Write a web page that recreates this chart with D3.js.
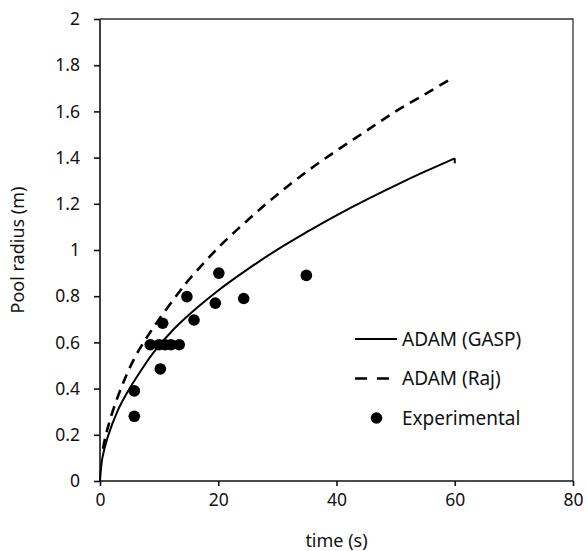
<!DOCTYPE html>
<html>
<head>
<meta charset="utf-8">
<script src="https://cdn.jsdelivr.net/npm/d3@7"></script>
<style>
  body { margin: 0; background: #fff; }
  text { font-family: "Noto Sans", sans-serif; fill: #111; }
</style>
</head>
<body>
<div id="chart"></div>
<script>
// ADAM (GASP) model curve (last point is the small drop at the end)
var gaspTime   = [0, 0.4, 1.3, 3, 5, 7.5, 9, 12.5, 16.5, 20, 25, 30, 35, 40, 45, 50, 55, 60, 60];
var gaspRadius = [0, 0.10, 0.19, 0.305, 0.40, 0.50, 0.555, 0.658, 0.752, 0.825, 0.917, 1.002, 1.078, 1.15, 1.217, 1.28, 1.34, 1.397, 1.375];

// ADAM (Raj) model curve
var rajTime   = [0.5, 1, 2, 4, 6, 8, 10, 13, 15, 20, 25, 30, 35, 40, 45, 50, 55, 59];
var rajRadius = [0.14, 0.20, 0.29, 0.43, 0.54, 0.625, 0.70, 0.805, 0.87, 1.01, 1.13, 1.24, 1.34, 1.43, 1.515, 1.60, 1.675, 1.735];

// experimental points
var expTime   = [5.8, 5.8, 10.2, 8.5, 10, 11, 12, 13.4, 10.6, 15.9, 14.7, 19.5, 20.1, 24.3, 34.9];
var expRadius = [0.28, 0.39, 0.485, 0.59, 0.59, 0.59, 0.59, 0.59, 0.683, 0.697, 0.798, 0.77, 0.90, 0.79, 0.89];

var xTicks = [0, 20, 40, 60, 80];
var yTicks = [0, 0.2, 0.4, 0.6, 0.8, 1, 1.2, 1.4, 1.6, 1.8, 2];

var legendNames = ['ADAM (GASP)', 'ADAM (Raj)', 'Experimental'];

var margin = {top: 19, right: 14, bottom: 70, left: 100},
    width = 587 - margin.left - margin.right,
    height = 551 - margin.top - margin.bottom;

var x = d3.scaleLinear().domain([0, 80]).range([0, width]);
var y = d3.scaleLinear().domain([0, 2]).range([height, 0]);

var svg = d3.select('#chart').append('svg')
    .attr('width', 587)
    .attr('height', 551)
    .append('g')
    .attr('transform', 'translate(' + margin.left + ',' + margin.top + ')');

// frame top and right
svg.append('path')
    .attr('d', 'M0,0H' + width + 'V' + height)
    .attr('fill', 'none')
    .attr('stroke', '#333')
    .attr('stroke-width', 1.3);

// axes
var xAxis = svg.append('g')
    .attr('transform', 'translate(0,' + height + ')')
    .call(d3.axisBottom(x).tickValues(xTicks).tickSize(5).tickPadding(8).tickFormat(d3.format('d')));

var yAxis = svg.append('g')
    .call(d3.axisLeft(y).tickValues(yTicks).tickSize(6).tickPadding(14).tickFormat(function (d) { return String(d); }));

[xAxis, yAxis].forEach(function (a) {
    a.select('.domain').attr('stroke', '#111').attr('stroke-width', 1.6);
    a.selectAll('.tick line').attr('stroke', '#111').attr('stroke-width', 1.6);
    a.selectAll('text').style('font-size', '17.5px').style('font-family', '"Noto Sans", sans-serif').attr('fill', '#111');
});
yAxis.select('.domain').attr('d', 'M0,' + height + 'V0');
xAxis.select('.domain').attr('d', 'M0,0H' + width);

// lines
var line = d3.line()
    .x(function (d) { return x(d[0]); })
    .y(function (d) { return y(d[1]); })
    .curve(d3.curveCatmullRom.alpha(0.5));

var gasp = d3.zip(gaspTime, gaspRadius);
var raj = d3.zip(rajTime, rajRadius);

svg.append('path')
    .datum(raj)
    .attr('fill', 'none')
    .attr('stroke', '#000')
    .attr('stroke-width', 2.6)
    .attr('stroke-dasharray', '10,7')
    .attr('d', line);

svg.append('path')
    .datum(gasp.slice(0, -1))
    .attr('fill', 'none')
    .attr('stroke', '#000')
    .attr('stroke-width', 2)
    .attr('d', line);

// end drop of the GASP curve
svg.append('path')
    .datum(gasp.slice(-2))
    .attr('fill', 'none')
    .attr('stroke', '#000')
    .attr('stroke-width', 2)
    .attr('d', d3.line().x(function (d) { return x(d[0]); }).y(function (d) { return y(d[1]); }));

// experimental points
svg.selectAll('.dot')
    .data(d3.zip(expTime, expRadius))
    .enter().append('circle')
    .attr('class', 'dot')
    .attr('cx', function (d) { return x(d[0]); })
    .attr('cy', function (d) { return y(d[1]); })
    .attr('r', 5.8)
    .attr('fill', '#000');

// axis titles
svg.append('text')
    .attr('x', width / 2)
    .attr('y', height + 66)
    .style('text-anchor', 'middle')
    .style('font-size', '18px')
    .text('time (s)');

svg.append('text')
    .attr('transform', 'rotate(-90)')
    .attr('x', -height / 2)
    .attr('y', -76)
    .style('text-anchor', 'middle')
    .style('font-size', '18px')
    .text('Pool radius (m)');

// legend
var legend = svg.append('g').attr('transform', 'translate(255,320)');
legendNames.forEach(function (name, i) {
    var g = legend.append('g').attr('transform', 'translate(0,' + (i * 39.5) + ')');
    if (i === 0) {
        g.append('line').attr('x1', 0).attr('x2', 42).attr('stroke', '#000').attr('stroke-width', 2);
    } else if (i === 1) {
        g.append('line').attr('x1', 0).attr('x2', 35).attr('stroke', '#000').attr('stroke-width', 2.6)
            .attr('stroke-dasharray', '12,10');
    } else {
        g.append('circle').attr('cx', 21.5).attr('r', 5.8).attr('fill', '#000');
    }
    g.append('text')
        .attr('x', 47)
        .attr('dy', '0.35em')
        .style('font-size', '19px')
        .text(name);
});
</script>
</body>
</html>
